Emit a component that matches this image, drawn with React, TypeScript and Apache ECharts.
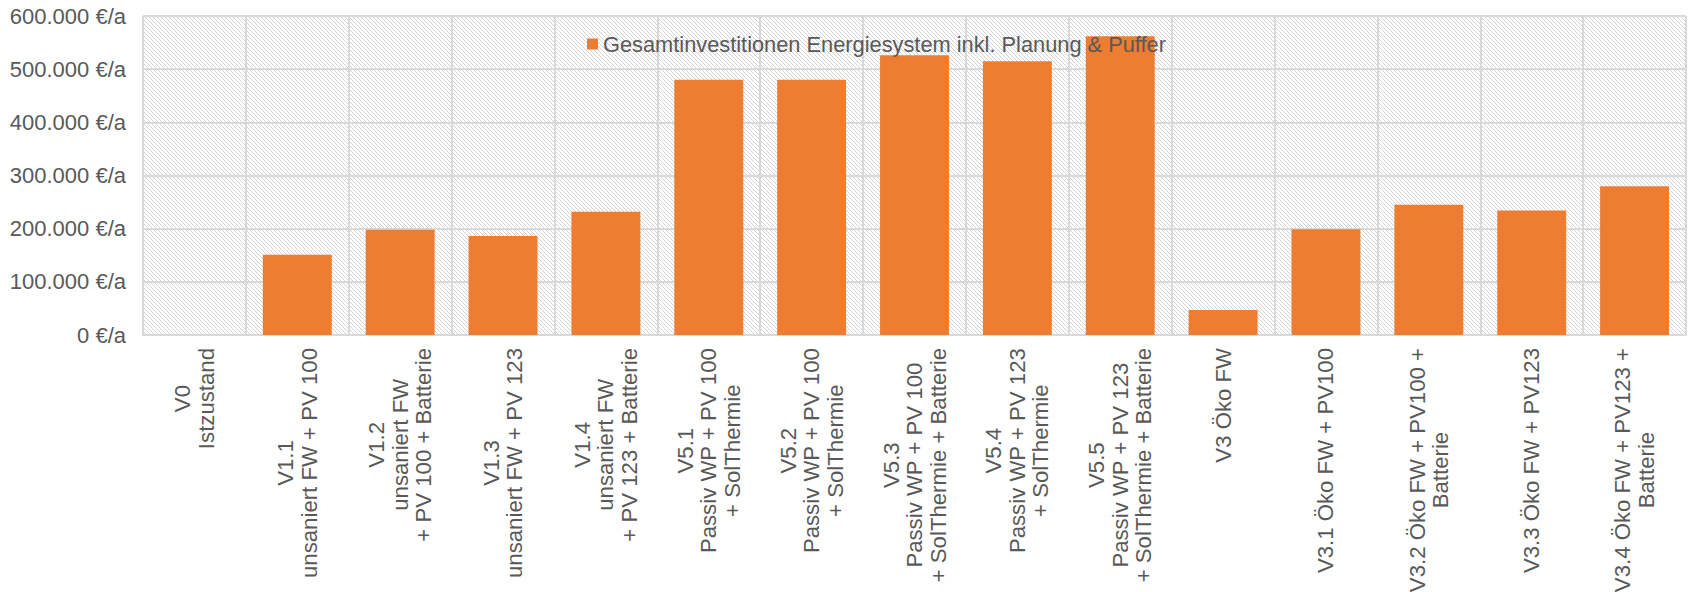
import React, { useEffect, useRef } from "react";
import * as echarts from "echarts";

// Variants (multi-line category labels)
const categories: string[] = [
  "V0\nIstzustand",
  "V1.1\nunsaniert FW + PV 100",
  "V1.2\nunsaniert FW\n+ PV 100 + Batterie",
  "V1.3\nunsaniert FW + PV 123",
  "V1.4\nunsaniert FW\n+ PV 123 + Batterie",
  "V5.1\nPassiv WP + PV 100\n+ SolThermie",
  "V5.2\nPassiv WP + PV 100\n+ SolThermie",
  "V5.3\nPassiv WP + PV 100\n+ SolThermie + Batterie",
  "V5.4\nPassiv WP + PV 123\n+ SolThermie",
  "V5.5\nPassiv WP + PV 123\n+ SolThermie + Batterie",
  "V3 Öko FW",
  "V3.1 Öko FW + PV100",
  "V3.2 Öko FW + PV100 +\nBatterie",
  "V3.3 Öko FW + PV123",
  "V3.4 Öko FW + PV123 +\nBatterie",
];

// Total investment per variant in €/a
const investment: number[] = [
  0, 151000, 198000, 186000, 232000, 480000, 480000, 526000, 515000, 562000,
  47000, 199000, 245000, 234000, 280000,
];

const seriesName = "Gesamtinvestitionen Energiesystem inkl. Planung & Puffer";

// Value axis range
const yMin = 0;
const yMax = 600000;
const yStep = 100000;

const FONT = "'Liberation Sans', Arial, sans-serif";
const TEXT = "#595959";
const GRID_LINE = "#d9d9d9";
const BAR = "#ED7D31";

function formatEuro(v: number): string {
  const s = String(Math.round(v)).replace(/\B(?=(\d{3})+(?!\d))/g, ".");
  return `${s} €/a`;
}

// Diagonal hatch tile used as plot-area fill
function makeHatch(): HTMLCanvasElement {
  const size = 4;
  const c = document.createElement("canvas");
  c.width = size;
  c.height = size;
  const ctx = c.getContext("2d")!;
  ctx.fillStyle = "#ffffff";
  ctx.fillRect(0, 0, size, size);
  ctx.strokeStyle = "#d4d4d4";
  ctx.lineWidth = 1;
  for (const o of [-size, 0, size]) {
    ctx.beginPath();
    ctx.moveTo(o, 0);
    ctx.lineTo(o + size, size);
    ctx.stroke();
  }
  return c;
}

export default function App() {
  const ref = useRef<HTMLDivElement>(null);

  useEffect(() => {
    document.body.style.margin = "0";
    if (!ref.current) return;
    const chart = echarts.init(ref.current, undefined, { renderer: "svg" });

    const hatch = makeHatch();

    chart.setOption({
      animation: false,
      backgroundColor: "#ffffff",
      grid: {
        left: 143,
        right: 4,
        top: 16,
        bottom: 257,
        containLabel: false,
        outerBoundsMode: "none",
        show: true,
        borderWidth: 0,
        backgroundColor: {
          image: hatch,
          repeat: "repeat",
          imageWidth: 4,
          imageHeight: 4,
        },
      },
      legend: {
        left: 587,
        top: 33,
        padding: 0,
        itemWidth: 11,
        itemHeight: 11,
        icon: "rect",
        selectedMode: false,
        textStyle: { color: TEXT, fontSize: 21.8, fontFamily: FONT },
        data: [seriesName],
      },
      xAxis: {
        type: "category",
        data: categories,
        axisLine: { show: true, lineStyle: { color: GRID_LINE, width: 2 } },
        axisTick: { show: false },
        splitLine: { show: true, lineStyle: { color: GRID_LINE, width: 2 } },
        axisLabel: {
          interval: 0,
          rotate: 90,
          margin: 13,
          color: TEXT,
          fontSize: 22.2,
          lineHeight: 23.5,
          fontFamily: FONT,
          formatter: (v: string) =>
            v
              .split("\n")
              .map((l) => `{c|${l}}`)
              .join("\n"),
          rich: {
            c: {
              align: "center",
              color: TEXT,
              fontSize: 22.2,
              lineHeight: 23.5,
              fontFamily: FONT,
            },
          },
        },
      },
      yAxis: {
        type: "value",
        min: yMin,
        max: yMax,
        interval: yStep,
        axisLine: { show: false },
        axisTick: { show: false },
        splitLine: { show: true, lineStyle: { color: GRID_LINE, width: 2 } },
        axisLabel: {
          margin: 17,
          color: TEXT,
          fontSize: 22,
          fontFamily: FONT,
          formatter: (v: number) => formatEuro(v),
        },
      },
      series: [
        {
          type: "bar",
          name: seriesName,
          data: investment,
          barCategoryGap: "33%",
          itemStyle: { color: BAR },
        },
      ],
    });

    return () => {
      chart.dispose();
    };
  }, []);

  return <div ref={ref} style={{ width: 1690, height: 592 }} />;
}
